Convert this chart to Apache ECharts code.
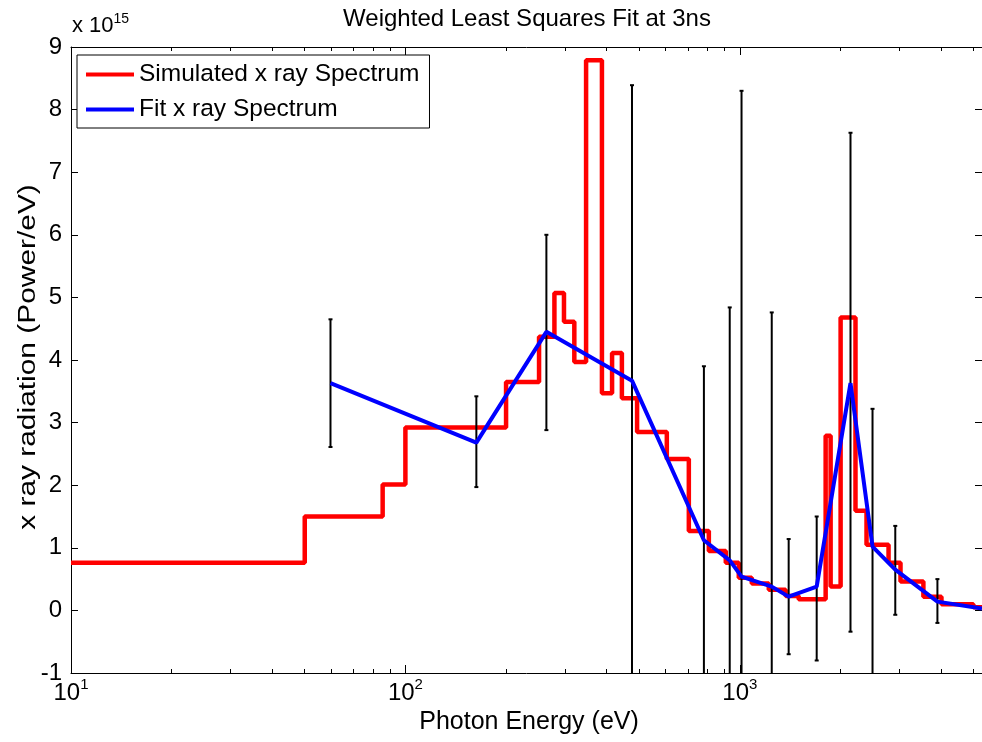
<!DOCTYPE html>
<html>
<head>
<meta charset="utf-8">
<title>Weighted Least Squares Fit at 3ns</title>
<script src="https://cdn.jsdelivr.net/npm/echarts@6/dist/echarts.min.js"></script>
<style>
  html, body { margin: 0; padding: 0; background: #fff; }
  #chart { width: 982px; height: 742px; }
</style>
</head>
<body>
<div id="chart"></div>
<script>
// simulated spectrum: step edges (eV) and level held from each edge (x 1e15)
var simEnergy = [10, 50, 85.5, 100, 200, 251, 279, 298, 320, 347, 387, 415, 444, 493, 605, 704, 808, 908, 993, 1086, 1221, 1371, 1500, 1806, 1869, 2002, 2218, 2393, 2785, 3024, 3540, 4009, 4995, 5300]
var simLevel = [0.76, 1.5, 2.01, 2.92, 3.65, 4.37, 5.07, 4.61, 3.97, 8.79, 3.47, 4.11, 3.39, 2.85, 2.42, 1.27, 0.95, 0.76, 0.52, 0.43, 0.33, 0.23, 0.18, 2.79, 0.38, 4.68, 1.59, 1.05, 0.76, 0.46, 0.22, 0.1, 0.05, 0.05]

// fit points and their error bars
var fitEnergy = [59.7, 163, 264, 476, 781, 933, 1012, 1246, 1400, 1698, 2143, 2494, 2917, 3899, 5300]
var fitValue = [3.63, 2.68, 4.45, 3.67, 1.12, 0.8, 0.54, 0.38, 0.22, 0.38, 3.63, 1.02, 0.65, 0.14, 0.03]
var errLow = [2.61, 1.97, 2.88, -1.1, -1.7, -3.2, -7.3, -4.1, -0.7, -0.8, -0.34, -1.2, -0.07, -0.2]
var errHigh = [4.65, 3.42, 6.0, 8.39, 3.9, 4.84, 8.3, 4.76, 1.14, 1.5, 7.63, 3.22, 1.35, 0.5]

var majorTicks = [10, 100, 1000]
var minorTicks = [20, 30, 40, 50, 60, 70, 80, 90, 200, 300, 400, 500, 600, 700, 800, 900, 2000, 3000, 4000, 5000]

var font = "'Liberation Sans', Arial, sans-serif"
var chart = echarts.init(document.getElementById('chart'))

var simData = []
for (var i = 0; i < simEnergy.length; i++) simData.push([simEnergy[i], simLevel[i]])
var fitData = []
for (var i = 0; i < fitEnergy.length; i++) fitData.push([fitEnergy[i], fitValue[i]])
var errData = []
for (var i = 0; i < errLow.length; i++) errData.push([fitEnergy[i], errLow[i], errHigh[i]])

function xAxisBase(pos, minor) {
  return {
    type: 'log',
    logBase: 10,
    min: 10,
    max: 5300,
    position: pos,
    splitLine: { show: false },
    axisLine: { show: !minor, onZero: false, lineStyle: { color: '#000', width: 1 } },
    axisLabel: { show: false },
    axisTick: {
      show: true, inside: true, length: minor ? 4 : 8,
      lineStyle: { color: '#000' },
      customValues: minor ? minorTicks : majorTicks
    }
  }
}

var xMain = xAxisBase('bottom', false)
xMain.axisLabel = {
  show: true,
  margin: 4,
  customValues: majorTicks,
  formatter: function (v) {
    return '{b|10}{s|' + Math.round(Math.log10(v)) + '}'
  },
  rich: {
    b: { fontSize: 24, fontFamily: font, color: '#000', lineHeight: 24, padding: [8, 0, 0, 0] },
    s: { fontSize: 15, fontFamily: font, color: '#000', lineHeight: 15, verticalAlign: 'top' }
  }
}

function yAxisBase(pos, labels) {
  return {
    type: 'value',
    min: -1,
    max: 9,
    interval: 1,
    position: pos,
    splitLine: { show: false },
    axisLine: { show: true, onZero: false, lineStyle: { color: '#000', width: 1 } },
    axisTick: { show: true, inside: true, length: 7, lineStyle: { color: '#000' } },
    axisLabel: { show: labels, margin: 9, fontSize: 24, fontFamily: font, color: '#000' }
  }
}

var option = {
  animation: false,
  backgroundColor: '#fff',
  grid: { left: 71, top: 47, right: 0, bottom: 69 },
  legend: {
    orient: 'vertical',
    left: 77,
    top: 55,
    padding: [7, 10, 6, 9],
    itemGap: 10,
    itemWidth: 48,
    itemHeight: 4,
    icon: 'rect',
    backgroundColor: '#fff',
    borderColor: '#000',
    borderWidth: 1,
    borderRadius: 0,
    textStyle: { fontSize: 24.5, fontFamily: font, color: '#000' },
    data: ['Simulated x ray Spectrum', 'Fit x ray Spectrum']
  },
  xAxis: [xMain, xAxisBase('bottom', true), xAxisBase('top', false), xAxisBase('top', true)],
  yAxis: [yAxisBase('left', true), yAxisBase('right', false)],
  graphic: [
    {
      type: 'text', x: 527, y: 19,
      style: { text: 'Weighted Least Squares Fit at 3ns', font: '24px ' + font, fill: '#000', textAlign: 'center', textVerticalAlign: 'middle' }
    },
    {
      type: 'text', x: 529, y: 722,
      style: { text: 'Photon Energy (eV)', font: '25px ' + font, fill: '#000', textAlign: 'center', textVerticalAlign: 'middle' }
    },
    {
      type: 'text', x: 29, y: 357, rotation: Math.PI / 2, scaleX: 1.3,
      style: { text: 'x ray radiation (Power/eV)', font: '23px ' + font, fill: '#000', textAlign: 'center', textVerticalAlign: 'middle' }
    },
    {
      type: 'text', x: 72, y: 12,
      style: {
        text: '{a|x 10}{b|15}',
        rich: {
          a: { fontSize: 22, fontFamily: font, fill: '#000', lineHeight: 22, padding: [6, 0, 0, 0] },
          b: { fontSize: 14, fontFamily: font, fill: '#000', lineHeight: 14, verticalAlign: 'top' }
        }
      }
    }
  ],
  series: [
    {
      name: 'Simulated x ray Spectrum',
      type: 'line',
      step: 'end',
      data: simData,
      symbol: 'none',
      color: '#ff0000',
      lineStyle: { color: '#ff0000', width: 4.5 },
      z: 2
    },
    {
      name: 'errorbars',
      type: 'custom',
      clip: true,
      data: errData,
      encode: { x: 0, y: [1, 2] },
      renderItem: function (params, api) {
        var e = api.value(0)
        var lo = api.coord([e, api.value(1)])
        var hi = api.coord([e, api.value(2)])
        var w = 2
        var st = { stroke: '#000', lineWidth: 2 }
        return {
          type: 'group',
          children: [
            { type: 'line', shape: { x1: hi[0], y1: hi[1], x2: lo[0], y2: lo[1] }, style: st },
            { type: 'line', shape: { x1: hi[0] - w, y1: hi[1], x2: hi[0] + w, y2: hi[1] }, style: st },
            { type: 'line', shape: { x1: lo[0] - w, y1: lo[1], x2: lo[0] + w, y2: lo[1] }, style: st }
          ]
        }
      },
      z: 3
    },
    {
      name: 'Fit x ray Spectrum',
      type: 'line',
      data: fitData,
      symbol: 'none',
      color: '#0000ff',
      lineStyle: { color: '#0000ff', width: 4 },
      z: 4
    }
  ]
}
chart.setOption(option)
</script>
</body>
</html>
